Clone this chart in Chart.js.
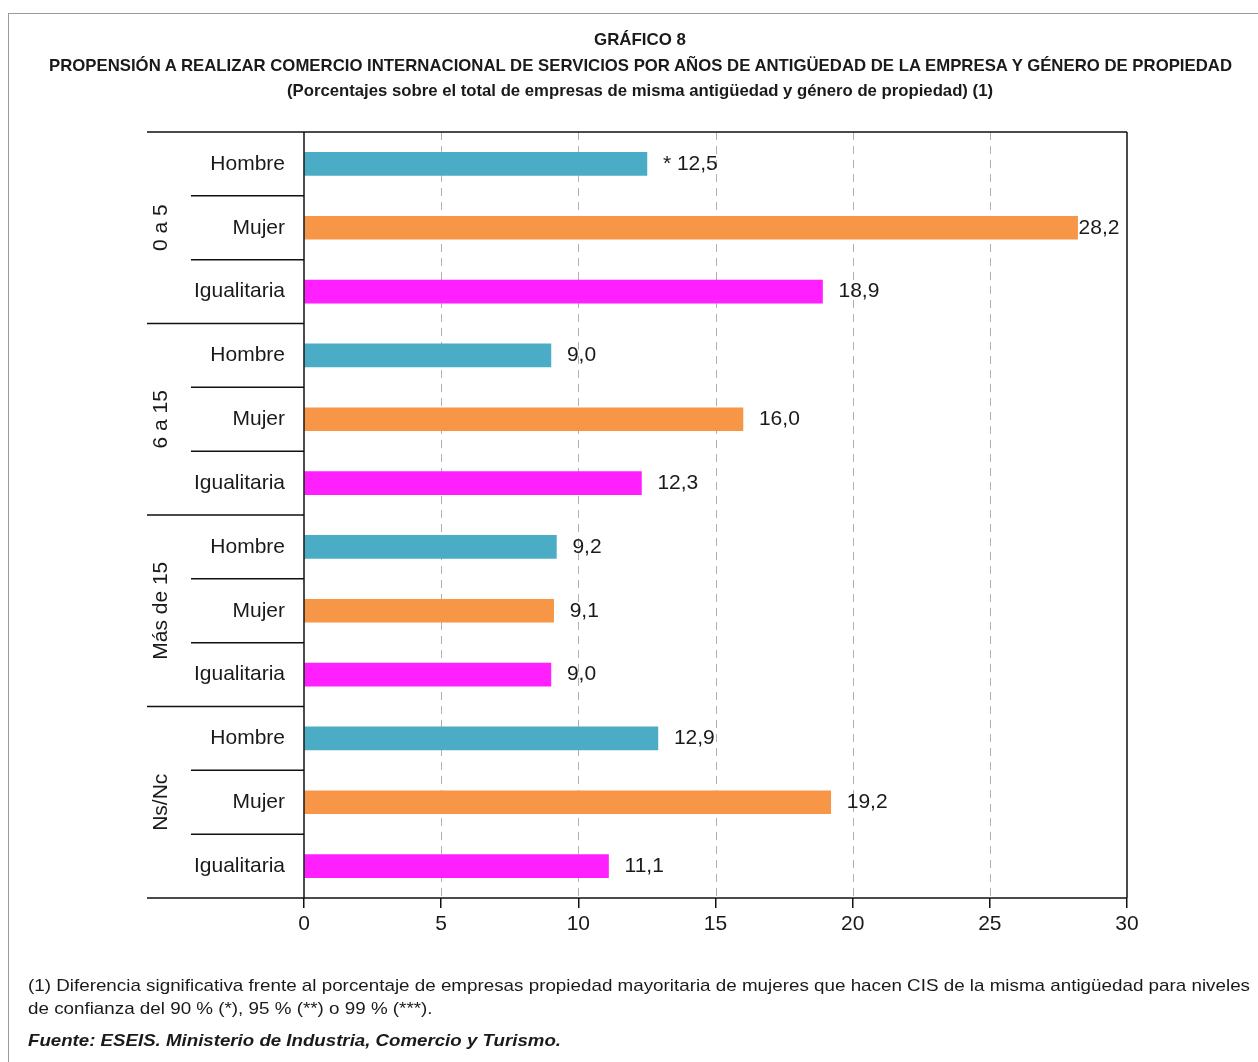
<!DOCTYPE html>
<html><head><meta charset="utf-8">
<script src="https://cdn.jsdelivr.net/npm/chart.js@4/dist/chart.umd.min.js"></script>
<style>
html,body{margin:0;padding:0;background:#fff;}
body{width:1258px;height:1062px;position:relative;overflow:hidden;font-family:"Liberation Sans",Arial,Helvetica,sans-serif;color:#1a1a1a;}
#frame{position:absolute;left:8px;top:13px;width:1260px;height:1060px;border-left:1px solid #9a9a9a;border-top:1px solid #9a9a9a;}
.t{position:absolute;white-space:nowrap;line-height:1;}
#c{position:absolute;left:0;top:0;}
</style></head>
<body>
<div id="frame"></div>
<canvas id="c" width="1258" height="1062" style="width:1258px;height:1062px"></canvas>
<div class="t fit" data-cx="640" data-cy="39" data-w="92" style="font-weight:bold;font-size:17px">GRÁFICO 8</div>
<div class="t fit" data-cx="640" data-cy="65" data-w="1183" style="font-weight:bold;font-size:17px">PROPENSIÓN A REALIZAR COMERCIO INTERNACIONAL DE SERVICIOS POR AÑOS DE ANTIGÜEDAD DE LA EMPRESA Y GÉNERO DE PROPIEDAD</div>
<div class="t fit" data-cx="640" data-cy="90" data-w="706" style="font-weight:bold;font-size:17px">(Porcentajes sobre el total de empresas de misma antigüedad y género de propiedad) (1)</div>
<div class="t fit" id="fn1" data-x="28" data-cy="985" data-w="1222" style="font-size:17px">(1) Diferencia significativa frente al porcentaje de empresas propiedad mayoritaria de mujeres que hacen CIS de la misma antigüedad para niveles</div>
<div class="t fit" data-x="28" data-cy="1008" data-ref="fn1" style="font-size:17px">de confianza del 90 % (*), 95 % (**) o 99 % (***).</div>
<div class="t fit" data-x="28" data-cy="1040" data-w="533" style="font-weight:bold;font-style:italic;font-size:17px">Fuente: ESEIS. Ministerio de Industria, Comercio y Turismo.</div>
<script>
// ---- data ----
const groups = ['0 a 5', '6 a 15', 'Más de 15', 'Ns/Nc'];
const owners = ['Hombre', 'Mujer', 'Igualitaria'];
const values0a5 = [12.5, 28.2, 18.9];
const values6a15 = [9.0, 16.0, 12.3];
const valuesMas15 = [9.2, 9.1, 9.0];
const valuesNsNc = [12.9, 19.2, 11.1];
const marks0a5 = ['*', '', ''];
const marks6a15 = ['', '', ''];
const marksMas15 = ['', '', ''];
const marksNsNc = ['', '', ''];
const xTicks = [0, 5, 10, 15, 20, 25, 30];
const ownerColors = ['#4BACC6', '#F79646', '#FF1FFF'];

// ---- text fitting ----
const scales = {};
document.querySelectorAll('.fit').forEach(el => {
  const nat = el.getBoundingClientRect().width;
  let s;
  if (el.dataset.ref) s = scales[el.dataset.ref];
  else s = (+el.dataset.w) / nat;
  if (el.id) scales[el.id] = s;
  const target = nat * s;
  const left = el.dataset.cx ? (+el.dataset.cx - target / 2) : +el.dataset.x;
  el.style.transformOrigin = 'left top';
  el.style.left = left + 'px';
  el.style.top = (+el.dataset.cy - el.offsetHeight * 0.5) + 'px';
  el.style.transform = 'scaleX(' + s + ')';
});

// ---- build rows ----
const groupValues = [values0a5, values6a15, valuesMas15, valuesNsNc];
const groupMarks = [marks0a5, marks6a15, marksMas15, marksNsNc];
const labels = [], values = [], marks = [], colors = [];
groups.forEach((g, gi) => owners.forEach((o, oi) => {
  labels.push(o);
  values.push(groupValues[gi][oi]);
  marks.push(groupMarks[gi][oi]);
  colors.push(ownerColors[oi]);
}));
const FONT = '"Liberation Sans", Arial, sans-serif';
const TXT = '#1a1a1a';
const fmt = v => v.toFixed(1).replace('.', ',');

const overlay = {
  id: 'overlay',
  beforeDatasetsDraw(chart) {
    const {ctx, chartArea: a, scales: {x}} = chart;
    ctx.save();
    ctx.strokeStyle = '#b0b0b0';
    ctx.lineWidth = 1;
    ctx.setLineDash([8, 6]);
    xTicks.forEach(v => {
      if (v === xTicks[0] || v === xTicks[xTicks.length - 1]) return;
      const px = Math.round(x.getPixelForValue(v)) + 0.5;
      ctx.beginPath(); ctx.moveTo(px, a.top); ctx.lineTo(px, a.bottom); ctx.stroke();
    });
    ctx.restore();
  },
  afterDatasetsDraw(chart) {
    const {ctx, chartArea: a, scales: {y}} = chart;
    const meta = chart.getDatasetMeta(0);
    ctx.save();
    // value labels
    ctx.font = '21px ' + FONT;
    ctx.fillStyle = TXT;
    ctx.textBaseline = 'middle';
    ctx.textAlign = 'left';
    meta.data.forEach((bar, i) => {
      const txt = (marks[i] ? marks[i] + ' ' : '') + fmt(values[i]);
      const w = ctx.measureText(txt).width;
      let tx = bar.x + 16;
      if (tx + w > a.right - 2) tx = bar.x + 1;
      ctx.fillText(txt, tx, bar.y);
    });
    // row geometry
    const n = labels.length;
    const centers = labels.map((_, i) => y.getPixelForValue(i));
    const bound = i => i === 0 ? a.top : (i === n ? a.bottom : (centers[i - 1] + centers[i]) / 2);
    const gLeft = a.left - 157, cLeft = a.left - 113;
    ctx.strokeStyle = '#111';
    ctx.lineWidth = 1.5;
    // frame lines
    ctx.beginPath();
    ctx.moveTo(gLeft, a.top); ctx.lineTo(a.right, a.top);
    ctx.moveTo(gLeft, a.bottom); ctx.lineTo(a.right, a.bottom);
    ctx.moveTo(a.left, a.top); ctx.lineTo(a.left, a.bottom);
    ctx.moveTo(a.right, a.top); ctx.lineTo(a.right, a.bottom);
    for (let i = 1; i < n; i++) {
      const yy = bound(i);
      ctx.moveTo(i % owners.length === 0 ? gLeft : cLeft, yy);
      ctx.lineTo(a.left, yy);
    }
    ctx.stroke();
    // category labels
    ctx.textAlign = 'right';
    labels.forEach((l, i) => ctx.fillText(l, a.left - 19, centers[i]));
    // group labels
    ctx.textAlign = 'center';
    groups.forEach((g, gi) => {
      const yc = (bound(gi * owners.length) + bound((gi + 1) * owners.length)) / 2;
      ctx.save();
      ctx.translate(a.left - 143, yc);
      ctx.rotate(-Math.PI / 2);
      ctx.fillText(g, 0, 0);
      ctx.restore();
    });
    ctx.restore();
  }
};

new Chart(document.getElementById('c'), {
  type: 'bar',
  data: {labels, datasets: [{data: values, backgroundColor: colors, borderWidth: 0, barThickness: 23}]},
  options: {
    indexAxis: 'y',
    responsive: false,
    animation: false,
    devicePixelRatio: 1,
    layout: {padding: {left: 304, right: 131, top: 132, bottom: 114}},
    plugins: {legend: {display: false}, tooltip: {enabled: false}, title: {display: false}},
    scales: {
      x: {
        type: 'linear', min: xTicks[0], max: xTicks[xTicks.length - 1],
        afterBuildTicks: s => { s.ticks = xTicks.map(v => ({value: v})); },
        ticks: {font: {family: FONT, size: 21}, color: TXT, padding: 4, maxRotation: 0},
        grid: {drawOnChartArea: false, drawTicks: true, tickLength: 10, color: '#111', lineWidth: 1.5},
        border: {display: false},
        afterFit: s => { s.height = 50; }
      },
      y: {display: false, offset: true}
    }
  },
  plugins: [overlay]
});
</script>
</body></html>
